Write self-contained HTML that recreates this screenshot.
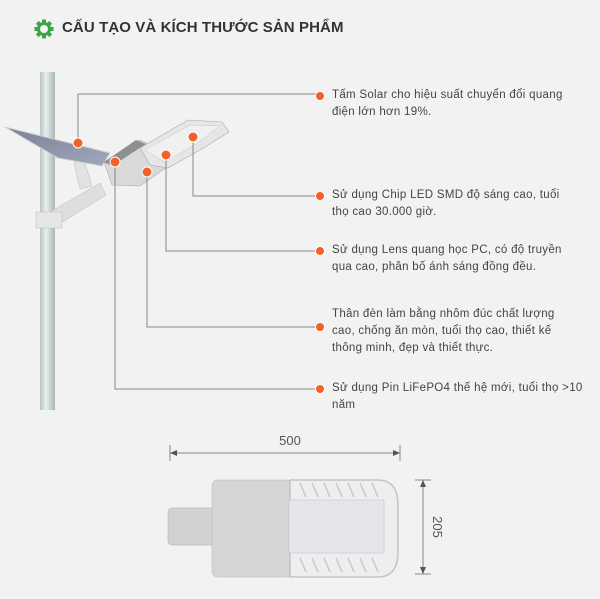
<!DOCTYPE html>
<html><head><meta charset="utf-8"><style>
html,body{margin:0;padding:0;background:#f2f2f2;}
body{width:600px;height:599px;position:relative;overflow:hidden;font-family:"Liberation Sans","DejaVu Sans",sans-serif;}
.t{position:absolute;left:332px;font-size:11.5px;line-height:17px;color:#444;white-space:nowrap;letter-spacing:0.3px;}
h1{position:absolute;left:62px;top:19px;margin:0;font-size:15px;font-weight:bold;color:#333;letter-spacing:0.1px;}
</style></head><body>
<svg width="600" height="599" style="position:absolute;left:0;top:0">
 <g transform="translate(44,29)" fill="#3aa54a">
  <circle r="7"/>
  <rect x="-2" y="-9.5" width="4" height="19"/><rect x="-9.5" y="-2" width="19" height="4"/>
  <rect x="-2" y="-9.5" width="4" height="19" transform="rotate(45)"/><rect x="-2" y="-9.5" width="4" height="19" transform="rotate(-45)"/>
  <circle r="4" fill="#f2f2f2"/>
 </g>
 <defs><linearGradient id="pg" x1="0" x2="1"><stop offset="0" stop-color="#b9c4c4"/><stop offset=".4" stop-color="#e8eeee"/><stop offset="1" stop-color="#a9b5b5"/></linearGradient>
 <linearGradient id="sp" x1="0" x2="1" y1="0" y2="1"><stop offset="0" stop-color="#7a8096"/><stop offset="1" stop-color="#a0a8bc"/></linearGradient></defs>
 <rect x="40" y="72" width="15" height="338" fill="url(#pg)"/>
 <!-- arm -->
 <polygon points="50,212 100,183 106,195 56,226" fill="#dedede" stroke="#bbb" stroke-width=".5"/>
 <rect x="36" y="212" width="26" height="16" fill="#e6e6e6" stroke="#bbb" stroke-width=".5"/>
 <!-- bracket -->
 <polygon points="74,163 84,160 92,186 80,189" fill="#e2e2e2" stroke="#bbb" stroke-width=".5"/>
 <!-- solar panel -->
 <polygon points="5,127 110,153 102,166 58,158" fill="url(#sp)" stroke="#d0d0d0" stroke-width="1"/>
 <!-- lamp -->
 <polygon points="104,162 140,140 150,145 170,165 140,186 112,185" fill="#d9d9d9" stroke="#aaa" stroke-width=".6"/>
 <polygon points="104,162 136,140 146,144 112,166" fill="#8f8f8f"/>
 <polygon points="140,148 188,120 222,122 229,132 200,150 168,168 150,165" fill="#e6e6e6" stroke="#aaa" stroke-width=".6"/>
 <polygon points="145,150 190,125 220,126 196,144 165,162" fill="#f0f0f0" stroke="#c8c8c8" stroke-width=".5"/>
 <!-- connectors -->
 <g fill="none" stroke="#888" stroke-width="1">
  <polyline points="78,143 78,94 318,94"/>
  <polyline points="193,137 193,196 318,196"/>
  <polyline points="166,155 166,251 318,251"/>
  <polyline points="147,172 147,327 318,327"/>
  <polyline points="115,162 115,389 318,389"/>
 </g>
 <g fill="#f2612a" stroke="#fff" stroke-width="1">
  <circle cx="78" cy="143" r="5"/><circle cx="193" cy="137" r="5"/><circle cx="166" cy="155" r="5"/>
  <circle cx="147" cy="172" r="5"/><circle cx="115" cy="162" r="5"/>
  <circle cx="320" cy="96" r="4.5"/><circle cx="320" cy="196" r="4.5"/><circle cx="320" cy="251" r="4.5"/>
  <circle cx="320" cy="327" r="4.5"/><circle cx="320" cy="389" r="4.5"/>
 </g>
 <g stroke="#888" stroke-width="1" fill="#555">
  <line x1="170" y1="453" x2="400" y2="453"/><line x1="170" y1="445" x2="170" y2="461"/><line x1="400" y1="445" x2="400" y2="461"/>
  <polygon points="170,453 177,450 177,456" stroke="none"/><polygon points="400,453 393,450 393,456" stroke="none"/>
  <line x1="423" y1="480" x2="423" y2="574"/><line x1="415" y1="480" x2="431" y2="480"/><line x1="415" y1="574" x2="431" y2="574"/>
  <polygon points="423,480 420,487 426,487" stroke="none"/><polygon points="423,574 420,567 426,567" stroke="none"/>
 </g>
 <text x="290" y="445" font-size="13" fill="#555" text-anchor="middle" font-family="Liberation Sans">500</text>
 <text x="0" y="0" font-size="13" fill="#555" text-anchor="middle" font-family="Liberation Sans" transform="translate(433,527) rotate(90)">205</text>
 <rect x="168" y="508" width="50" height="37" rx="4" fill="#d2d2d2" stroke="#aaa" stroke-width=".5"/>
 <rect x="212" y="480" width="80" height="97" rx="5" fill="#d5d5d5" stroke="#bbb" stroke-width=".5"/>
 <path d="M290,480 L378,480 Q398,480 398,505 L398,552 Q398,577 378,577 L290,577 Z" fill="#eee" stroke="#c4c4c4" stroke-width="1.5"/>
 <g stroke="#c8c8c8" stroke-width="1.5">
  <line x1="300" y1="483" x2="306" y2="497"/><line x1="312" y1="483" x2="318" y2="497"/><line x1="324" y1="483" x2="330" y2="497"/><line x1="336" y1="483" x2="342" y2="497"/><line x1="348" y1="483" x2="354" y2="497"/><line x1="360" y1="483" x2="366" y2="497"/><line x1="372" y1="483" x2="378" y2="497"/>
  <line x1="300" y1="558" x2="306" y2="572"/><line x1="312" y1="558" x2="318" y2="572"/><line x1="324" y1="558" x2="330" y2="572"/><line x1="336" y1="558" x2="342" y2="572"/><line x1="348" y1="558" x2="354" y2="572"/><line x1="360" y1="558" x2="366" y2="572"/><line x1="372" y1="558" x2="378" y2="572"/>
 </g>
 <rect x="289" y="500" width="95" height="53" fill="#e4e6ea" stroke="#bbb" stroke-width=".5"/>
</svg>
<h1>CẤU TẠO VÀ KÍCH THƯỚC SẢN PHẨM</h1>
<div class="t" style="top:87px">Tấm Solar cho hiệu suất chuyển đổi quang<br>điện lớn hơn 19%.</div>
<div class="t" style="top:187px">Sử dụng Chip LED SMD độ sáng cao, tuổi<br>thọ cao 30.000 giờ.</div>
<div class="t" style="top:242px">Sử dụng Lens quang học PC, có độ truyền<br>qua cao, phân bố ánh sáng đồng đều.</div>
<div class="t" style="top:306px">Thân đèn làm bằng nhôm đúc chất lượng<br>cao, chống ăn mòn, tuổi thọ cao, thiết kế<br>thông minh, đẹp và thiết thực.</div>
<div class="t" style="top:380px">Sử dụng Pin LiFePO4 thế hệ mới, tuổi thọ &gt;10<br>năm</div>
</body></html>
